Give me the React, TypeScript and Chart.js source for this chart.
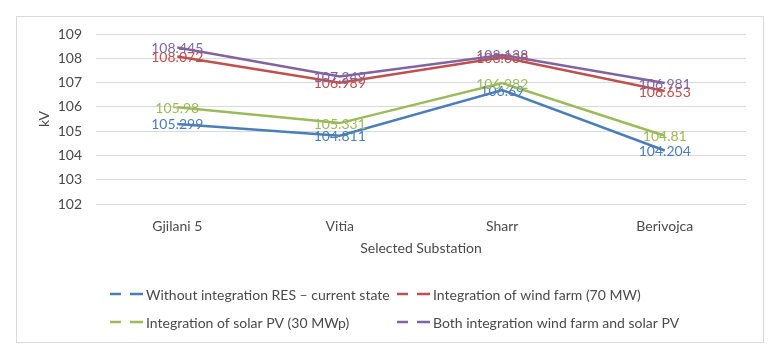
import React, { useEffect, useRef } from "react";
import { Chart, registerables } from "chart.js";

Chart.register(...registerables);

const categories = ["Gjilani 5", "Vitia", "Sharr", "Berivojca"];
const withoutRES = [105.299, 104.811, 106.69, 104.204];
const windFarm = [108.072, 106.989, 108.038, 106.653];
const solarPV = [105.98, 105.331, 106.982, 104.81];
const bothWindSolar = [108.445, 107.249, 108.138, 106.981];
const seriesNames = [
  "Without integration RES – current state",
  "Integration of wind farm (70 MW)",
  "Integration of solar PV (30 MWp)",
  "Both integration wind farm and solar PV",
];
const yTicks = [102, 103, 104, 105, 106, 107, 108, 109];

const COLORS = ["#4a7ebb", "#c0504d", "#9bbb59", "#8064a2"];
const FONT = "Lato";
const TEXT = "#4a4a4a";

const frame = {
  id: "frame",
  beforeDraw(chart: any) {
    const ctx = chart.ctx;
    ctx.save();
    ctx.fillStyle = "#fff";
    ctx.fillRect(0, 0, chart.width, chart.height);
    ctx.strokeStyle = "#d9d9d9";
    ctx.lineWidth = 1;
    ctx.strokeRect(16.5, 16.5, 747, 326);
    ctx.restore();
  },
};

const dataLabels = {
  id: "dataLabels",
  afterDatasetsDraw(chart: any) {
    const ctx = chart.ctx;
    ctx.save();
    ctx.font = `14px ${FONT}`;
    ctx.textAlign = "center";
    ctx.textBaseline = "middle";
    chart.data.datasets.forEach((ds: any, i: number) => {
      const meta = chart.getDatasetMeta(i);
      ctx.fillStyle = ds.borderColor;
      meta.data.forEach((pt: any, j: number) => {
        ctx.fillText(String(ds.data[j]), pt.x, pt.y + 1);
      });
    });
    ctx.restore();
  },
};

const customLegend = {
  id: "customLegend",
  afterDraw(chart: any) {
    const ctx = chart.ctx;
    ctx.save();
    ctx.font = `14px ${FONT}`;
    ctx.textAlign = "left";
    ctx.textBaseline = "middle";
    const cols = [110, 397];
    const rows = [294, 322];
    chart.data.datasets.forEach((ds: any, i: number) => {
      const x = cols[i % 2];
      const y = rows[Math.floor(i / 2)];
      ctx.strokeStyle = ds.borderColor;
      ctx.lineWidth = 2.5;
      ctx.beginPath();
      ctx.moveTo(x, y);
      ctx.lineTo(x + 11, y);
      ctx.moveTo(x + 20, y);
      ctx.lineTo(x + 33, y);
      ctx.stroke();
      ctx.fillStyle = TEXT;
      ctx.fillText(ds.label, x + 36, y + 1);
    });
    ctx.restore();
  },
};

export default function App() {
  const ref = useRef<HTMLCanvasElement>(null);
  useEffect(() => {
    if (!ref.current) return;
    const series = [withoutRES, windFarm, solarPV, bothWindSolar];
    const chart = new Chart(ref.current, {
      type: "line",
      data: {
        labels: categories,
        datasets: series.map((d, i) => ({
          label: seriesNames[i],
          data: d,
          borderColor: COLORS[i],
          backgroundColor: COLORS[i],
          borderWidth: 2.5,
          pointRadius: 0,
          tension: 0,
          fill: false,
        })),
      },
      options: {
        animation: false,
        responsive: false,
        maintainAspectRatio: false,
        layout: { padding: { left: 30, right: 33, top: 34, bottom: 102 } },
        plugins: {
          legend: { display: false },
          tooltip: { enabled: false },
        },
        scales: {
          x: {
            offset: true,
            afterFit: (scale: any) => {
              scale.height = 57;
            },
            grid: { display: false, drawTicks: false },
            border: { display: false },
            ticks: { padding: 14, color: TEXT, font: { family: FONT, size: 14 } },
            title: {
              display: true,
              text: "Selected Substation",
              color: TEXT,
              font: { family: FONT, size: 14 },
              padding: { top: 8, bottom: 4 },
            },
          },
          y: {
            min: 102,
            max: 109,
            afterBuildTicks: (scale: any) => {
              scale.ticks = yTicks.map((v) => ({ value: v }));
            },
            afterFit: (scale: any) => {
              scale.width = 66;
            },
            grid: { color: "#d9d9d9", lineWidth: 1, drawTicks: false },
            border: { display: false },
            ticks: { padding: 14, color: TEXT, font: { family: FONT, size: 14 } },
            title: {
              display: true,
              text: "kV",
              color: TEXT,
              font: { family: FONT, size: 14 },
              padding: { top: 6, bottom: 4 },
            },
          },
        },
      },
      plugins: [frame, dataLabels, customLegend],
    });
    return () => chart.destroy();
  }, []);
  return (
    <div style={{ position: "absolute", left: 0, top: 0, width: 779, height: 363 }}>
      <canvas ref={ref} width={779} height={363} style={{ width: 779, height: 363 }} />
    </div>
  );
}
